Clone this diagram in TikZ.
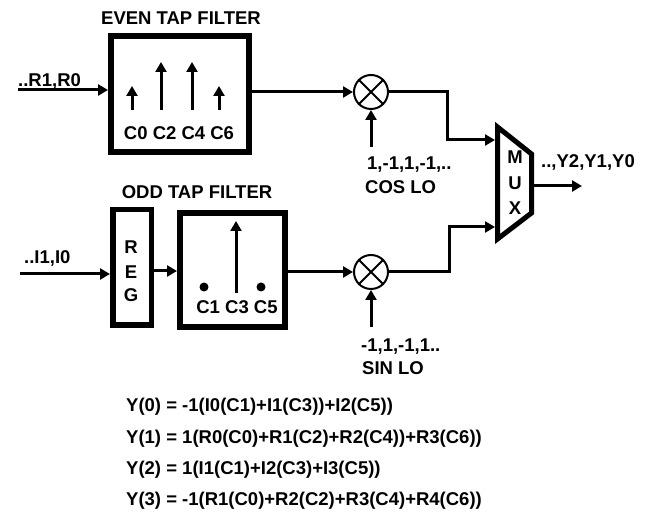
\documentclass[tikz,border=0pt]{standalone}
\usepackage{fontspec}
\setmainfont{Liberation Sans}
\usetikzlibrary{arrows.meta}
\begin{document}
\begin{tikzpicture}[x=1pt,y=-1pt,
  lbl/.style={font=\fontsize{18.5}{21}\selectfont\bfseries, inner sep=0pt},
  box/.style={draw, line width=6pt, inner sep=0pt},
  conn/.style={line width=3pt, -{Triangle[length=10pt,width=11pt]}},
  mult/.style={draw, circle, line width=2pt, minimum size=34pt, inner sep=0pt},
  tap/.style={line width=3pt, -{Triangle[length=10pt,width=11pt]}}
]
\useasboundingbox[fill=white] (0,0) rectangle (657,518);

% even tap filter
\node[box, minimum width=138pt, minimum height=116pt] (even) at (180,94) {};
\node[lbl] (evenlbl) at (181,18) {EVEN TAP FILTER};
\draw[tap] (132,110) -- (132,86);
\draw[tap] (161,110) -- (161,62);
\draw[tap] (192,110) -- (192,62);
\draw[tap] (219,110) -- (219,86);
\node[lbl] (ctaps) at (179,133) {C0 C2 C4 C6};

% even input
\coordinate (inR) at (18,90);
\node[lbl, anchor=west] (inRlbl) at (18,81) {..R1,R0};
\draw[conn] (inR) -- (inR -| even.west);

% multipliers
\node[mult] (m1) at (371,92) {};
\draw[line width=2pt] (m1.north east) -- (m1.south west) (m1.north west) -- (m1.south east);
\node[mult] (m2) at (371,272) {};
\draw[line width=2pt] (m2.north east) -- (m2.south west) (m2.north west) -- (m2.south east);

\draw[conn] (m1.west -| even.east) -- (m1.west);
\coordinate (cos) at (371,147);
\draw[conn] (cos) -- (m1.south);
\node[lbl, anchor=west] (coslbl1) at (367,165) {1,-1,1,-1,..};
\node[lbl, anchor=west] (coslbl2) at (365,187) {COS LO};

% odd branch
\node[lbl] (oddlbl) at (197,192) {ODD TAP FILTER};
\node[box, line width=5.5pt, minimum width=38.5pt, minimum height=115.5pt] (reg) at (132,267.5) {};
\node[lbl] (regR) at (131,247) {R};
\node[lbl] (regE) at (131,272) {E};
\node[lbl] (regG) at (131,295) {G};
\node[box, minimum width=105pt, minimum height=114pt] (odd) at (232.5,270) {};
\fill (204,287) circle (4.5);
\fill (261,287) circle (4.5);
\draw[tap] (236,293) -- (236,221);
\node[lbl] (otaps) at (237,307) {C1 C3 C5};

\coordinate (inI) at (20,274);
\node[lbl, anchor=west] (inIlbl) at (24,258) {..I1,I0};
\draw[conn] (inI) -- (inI -| reg.west);
\coordinate (r2o) at (154,271);
\draw[conn] (r2o) -- (r2o -| odd.west);

\draw[conn] (m2.west -| odd.east) -- (m2.west);
\coordinate (sin) at (371,327);
\draw[conn] (sin) -- (m2.south);
\node[lbl, anchor=west] (sinlbl1) at (361,347) {-1,1,-1,1..};
\node[lbl, anchor=west] (sinlbl2) at (362,368) {SIN LO};

% mux
\draw[line width=5pt, line join=miter] (497.5,127) -- (531.5,154) -- (531.5,213) -- (497.5,239) -- cycle;
\node[lbl] (muxM) at (515,157) {M};
\node[lbl] (muxU) at (515,183) {U};
\node[lbl] (muxX) at (515,208) {X};
\coordinate (mi1) at (495,140);
\coordinate (mi2) at (495,227);
\coordinate (j1) at (447,140);
\coordinate (j2) at (449,227);
\draw[conn] (m1.east) -| (j1) -- (mi1);
\draw[conn] (m2.east) -| (j2) -- (mi2);
\coordinate (mo) at (534,186);
\coordinate (out) at (582,186);
\draw[conn] (mo) -- (out);
\node[lbl, anchor=west] (outlbl) at (541,162) {..,Y2,Y1,Y0};

% equations
\node[lbl, anchor=west] (eq0) at (126,407) {Y(0) = -1(I0(C1)+I1(C3))+I2(C5))};
\node[lbl, anchor=west] (eq1) at (126,439) {Y(1) = 1(R0(C0)+R1(C2)+R2(C4))+R3(C6))};
\node[lbl, anchor=west] (eq2) at (126,470) {Y(2) = 1(I1(C1)+I2(C3)+I3(C5))};
\node[lbl, anchor=west] (eq3) at (126,501) {Y(3) = -1(R1(C0)+R2(C2)+R3(C4)+R4(C6))};
\end{tikzpicture}
\end{document}
